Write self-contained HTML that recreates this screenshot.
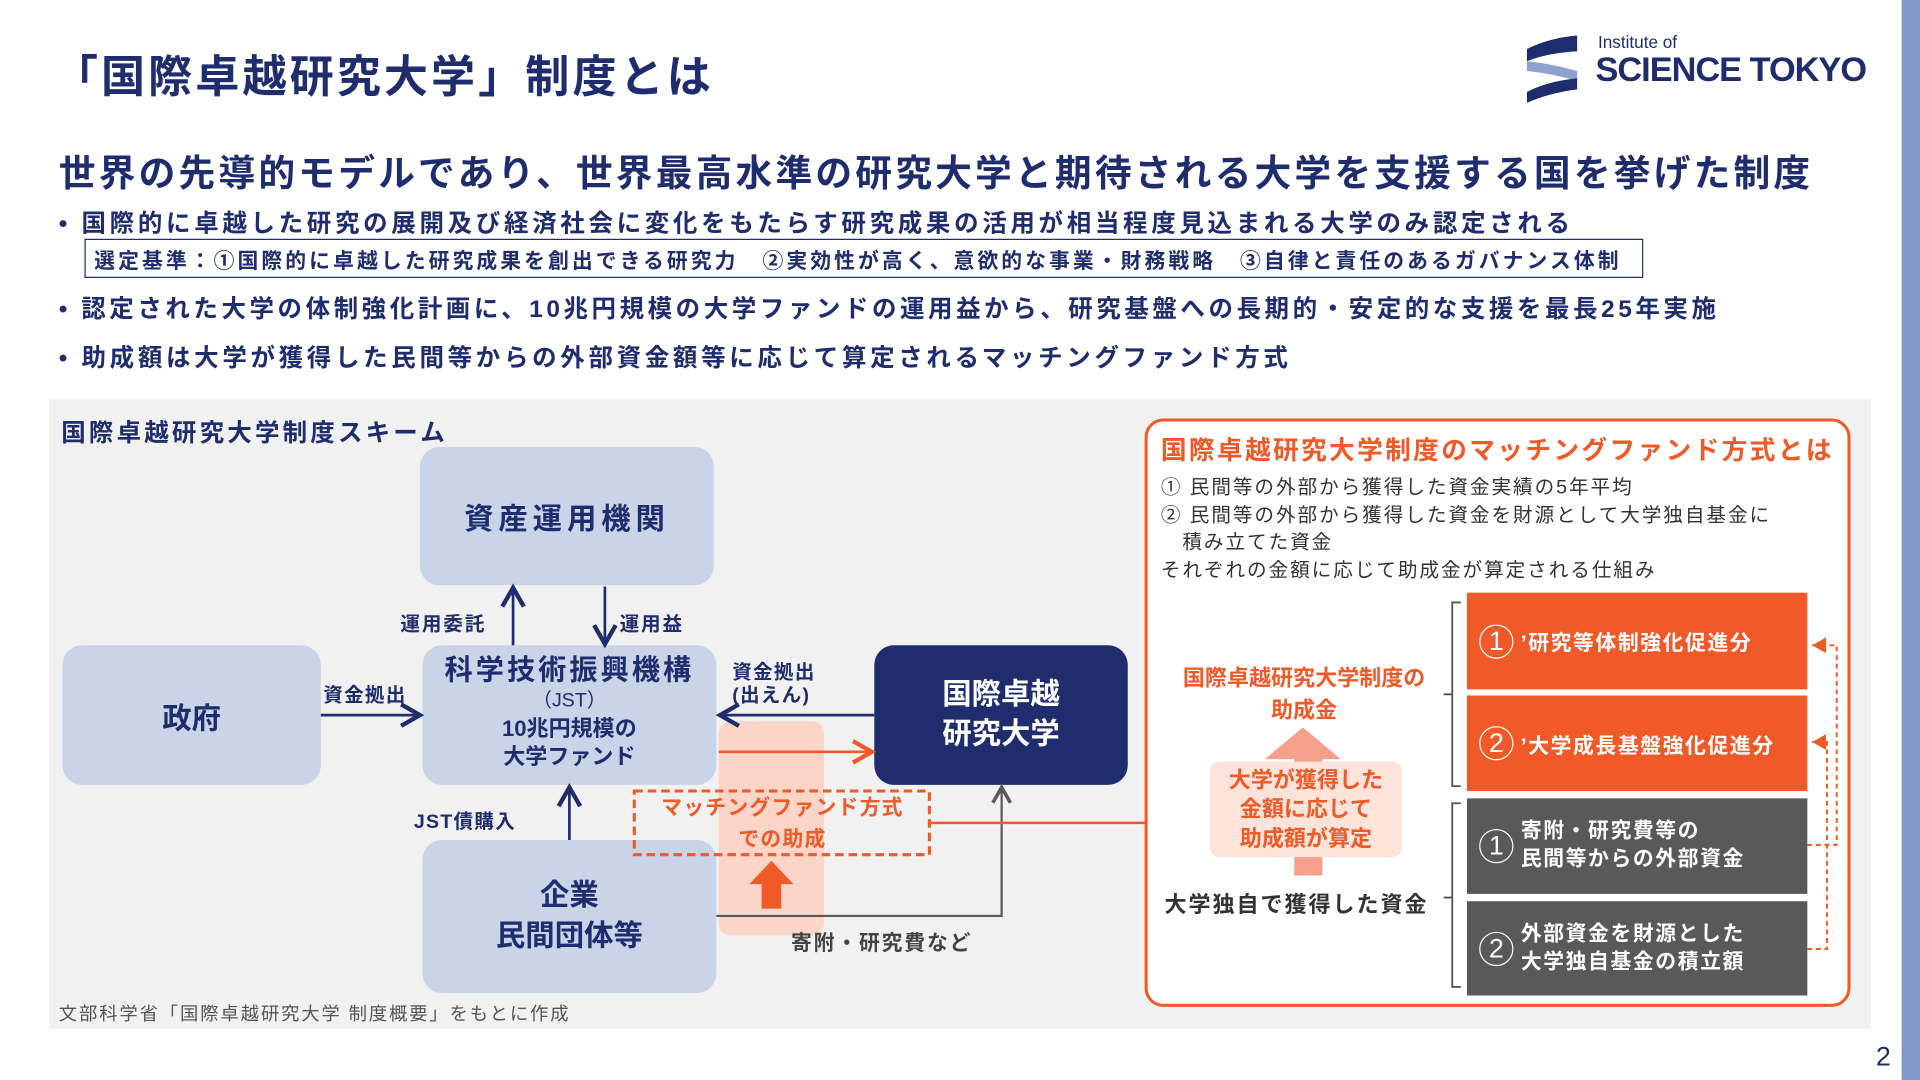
<!DOCTYPE html>
<html><head><meta charset="utf-8"><style>
*{margin:0;padding:0;box-sizing:border-box}
body{width:1920px;height:1080px;overflow:hidden;background:#fff;font-family:"Liberation Sans","Noto Sans CJK JP",sans-serif}
#s{position:absolute;left:0;top:0;width:1568px;height:882px;transform:scale(1.22449);transform-origin:0 0;color:#1f2d6e}
.a{position:absolute;white-space:nowrap}
.b{position:absolute;background:#c9d4e9;border-radius:16px;display:flex;flex-direction:column;align-items:center;justify-content:center;font-weight:bold;color:#1f2d6e;text-align:center}
.o{position:absolute;background:#f05a28;color:#fff;font-weight:bold;font-size:17px;display:flex;align-items:center;padding-left:10px;letter-spacing:1.3px}
.g{position:absolute;background:#595959;color:#fff;font-weight:bold;font-size:17px;display:flex;align-items:center;padding-left:10px;line-height:1.35;letter-spacing:1.3px}
.c{display:inline-flex;width:28px;height:28px;border:1.2px solid #fff;border-radius:50%;align-items:center;justify-content:center;font-size:22px;font-weight:normal;margin-right:6px;letter-spacing:0}
</style></head><body><div id="s">
<div class="a" style="left:1553px;top:0;width:15px;height:882px;background:#7f98c6"></div>
<div class="a" style="left:44px;top:34px;font-size:36px;font-weight:bold;letter-spacing:2.5px">「国際卓越研究大学」制度とは</div>
<svg class="a" style="left:1245px;top:28px" width="46" height="58"><path d="M2 12 Q20 3 43 1 V14 Q20 15 2 22Z" fill="#1f2d6e"/><path d="M2 22 Q22 24 43 30 V38 Q22 32 2 30Z" fill="#8ea2cf"/><path d="M2 47 Q20 38 43 36 V45 Q20 48 2 56Z" fill="#1f2d6e"/></svg>
<div class="a" style="left:1305px;top:26px;font-size:14px">Institute of</div>
<div class="a" style="left:1303px;top:41px;font-size:28px;font-weight:bold;letter-spacing:-0.8px">SCIENCE TOKYO</div>
<div class="a" style="left:48px;top:117px;font-size:30px;font-weight:bold;letter-spacing:2.6px">世界の先導的モデルであり、世界最高水準の研究大学と期待される大学を支援する国を挙げた制度</div>
<div class="a" style="left:48px;top:166px;font-size:20px;font-weight:bold;letter-spacing:3px">• 国際的に卓越した研究の展開及び経済社会に変化をもたらす研究成果の活用が相当程度見込まれる大学のみ認定される</div>
<div class="a" style="left:69px;top:195px;width:1273px;height:32px;border:1.5px solid #1f2d6e;font-size:17px;font-weight:bold;padding:3px 0 0 7px;letter-spacing:2.5px">選定基準：①国際的に卓越した研究成果を創出できる研究力　②実効性が高く、意欲的な事業・財務戦略　③自律と責任のあるガバナンス体制</div>
<div class="a" style="left:48px;top:236px;font-size:20px;font-weight:bold;letter-spacing:2.9px">• 認定された大学の体制強化計画に、10兆円規模の大学ファンドの運用益から、研究基盤への長期的・安定的な支援を最長25年実施</div>
<div class="a" style="left:48px;top:276px;font-size:20px;font-weight:bold;letter-spacing:3px">• 助成額は大学が獲得した民間等からの外部資金額等に応じて算定されるマッチングファンド方式</div>
<div class="a" style="left:40px;top:326px;width:1488px;height:514px;background:#f1f1f1"></div>
<div class="a" style="left:50px;top:337px;font-size:20px;font-weight:bold;letter-spacing:2.6px">国際卓越研究大学制度スキーム</div>
<div class="a" style="left:587px;top:589px;width:86px;height:175px;background:#fcd5c8;border-radius:10px"></div>
<div class="b" style="left:343px;top:365px;width:240px;height:113px;font-size:24px;letter-spacing:4px">資産運用機関</div>
<div class="b" style="left:51px;top:527px;width:211px;height:114px;font-size:24px">政府</div>
<div class="b" style="left:345px;top:527px;width:240px;height:114px;font-size:16px;line-height:1.3;justify-content:flex-start;padding-top:6px"><span style="font-size:23px;letter-spacing:2.5px">科学技術振興機構</span><span style="font-weight:normal">（JST）</span><span style="font-size:18px">10兆円規模の<br>大学ファンド</span></div>
<div class="b" style="left:714px;top:527px;width:207px;height:114px;font-size:24px;background:#1f2d6e;color:#fff;line-height:1.35">国際卓越<br>研究大学</div>
<div class="b" style="left:345px;top:686px;width:240px;height:125px;font-size:24px;line-height:1.35">企業<br>民間団体等</div>
<svg class="a" style="left:0;top:0" width="1568" height="882">
<defs><marker id="n" markerWidth="10" markerHeight="10" refX="8" refY="5" orient="auto"><path d="M1 1L8 5L1 9" fill="none" stroke="#1f2d6e" stroke-width="1.6"/></marker>
<marker id="r" markerWidth="10" markerHeight="10" refX="8" refY="5" orient="auto"><path d="M1 1L8 5L1 9" fill="none" stroke="#f05a28" stroke-width="1.6"/></marker>
<marker id="k" markerWidth="10" markerHeight="10" refX="8" refY="5" orient="auto"><path d="M1 1L8 5L1 9" fill="none" stroke="#595959" stroke-width="1.6"/></marker>
<marker id="t" markerWidth="8" markerHeight="8" refX="7" refY="4" orient="auto"><path d="M0 0L7 4L0 8Z" fill="#f05a28"/></marker></defs>
<g stroke="#1f2d6e" stroke-width="2.2" fill="none">
<line x1="419" y1="527" x2="419" y2="480" marker-end="url(#n)"/>
<line x1="494" y1="479" x2="494" y2="526" marker-end="url(#n)"/>
<line x1="262" y1="584" x2="343" y2="584" marker-end="url(#n)"/>
<line x1="714" y1="584" x2="588" y2="584" marker-end="url(#n)"/>
<line x1="465" y1="686" x2="465" y2="643" marker-end="url(#n)"/></g>
<line x1="587" y1="614" x2="712" y2="614" stroke="#f05a28" stroke-width="2.2" marker-end="url(#r)"/>
<polyline points="585,748 818,748 818,643" fill="none" stroke="#595959" stroke-width="1.8" marker-end="url(#k)"/>
<rect x="518" y="646" width="241" height="52" fill="none" stroke="#f05a28" stroke-width="2.5" stroke-dasharray="7,4"/>
<line x1="759" y1="672" x2="936" y2="672" stroke="#f05a28" stroke-width="2"/>
<path d="M622 742V722H612L630 703L648 722H638V742Z" fill="#f05a28"/>
<rect x="936" y="343" width="574" height="478" rx="14" fill="#fff" stroke="#f05a28" stroke-width="2.5"/>
<path d="M1057 715V620H1033L1064 594L1095 620H1080V715Z" fill="#f5a08a"/>
<path d="M1193 492H1186V642H1193M1186 567H1179" fill="none" stroke="#555" stroke-width="1.5"/>
<path d="M1193 656H1186V806H1193M1186 733H1179" fill="none" stroke="#555" stroke-width="1.5"/>
<g stroke="#f05a28" stroke-width="1.6" fill="none" stroke-dasharray="4,3">
<polyline points="1476,690 1500,690 1500,527 1480,527" marker-end="url(#t)"/>
<polyline points="1476,775 1492,775 1492,606 1480,606" marker-end="url(#t)"/></g>
</svg>
<div class="a" style="left:327px;top:496px;font-size:16px;font-weight:bold;letter-spacing:1.5px">運用委託</div>
<div class="a" style="left:506px;top:496px;font-size:16px;font-weight:bold;letter-spacing:1.5px">運用益</div>
<div class="a" style="left:264px;top:554px;font-size:16px;font-weight:bold;letter-spacing:1px">資金拠出</div>
<div class="a" style="left:598px;top:540px;font-size:16px;font-weight:bold;line-height:1.2;letter-spacing:1px">資金拠出<br>(出えん)</div>
<div class="a" style="left:338px;top:657px;font-size:16px;font-weight:bold;letter-spacing:1px">JST債購入</div>
<div class="a" style="left:520px;top:647px;width:238px;text-align:center;font-size:17px;font-weight:bold;color:#f05a28;line-height:1.5;letter-spacing:1px">マッチングファンド方式<br>での助成</div>
<div class="a" style="left:646px;top:756px;font-size:17px;font-weight:bold;color:#444;letter-spacing:1.5px">寄附・研究費など</div>
<div class="a" style="left:48px;top:817px;font-size:15px;color:#555;letter-spacing:1.5px">文部科学省「国際卓越研究大学 制度概要」をもとに作成</div>
<div class="a" style="left:948px;top:352px;font-size:21px;font-weight:bold;color:#f05a28;letter-spacing:1.9px">国際卓越研究大学制度のマッチングファンド方式とは</div>
<div class="a" style="left:948px;top:388px;font-size:16px;color:#333;line-height:22.5px;letter-spacing:1.6px">① 民間等の外部から獲得した資金実績の5年平均<br>② 民間等の外部から獲得した資金を財源として大学独自基金に<br>　積み立てた資金<br>それぞれの金額に応じて助成金が算定される仕組み</div>
<div class="a" style="left:955px;top:541px;width:220px;text-align:center;font-size:18px;font-weight:bold;color:#f05a28;line-height:26px">国際卓越研究大学制度の<br>助成金</div>
<div class="a" style="left:988px;top:622px;width:157px;height:78px;background:#fde3da;border-radius:8px;text-align:center;font-size:18px;font-weight:bold;color:#f05a28;line-height:24px;padding-top:3px">大学が獲得した<br>金額に応じて<br>助成額が算定</div>
<div class="a" style="left:951px;top:725px;font-size:18px;font-weight:bold;color:#333;letter-spacing:1.6px">大学独自で獲得した資金</div>
<div class="o" style="left:1198px;top:484px;width:278px;height:79px"><span class="c">1</span>’研究等体制強化促進分</div>
<div class="o" style="left:1198px;top:568px;width:278px;height:78px"><span class="c">2</span>’大学成長基盤強化促進分</div>
<div class="g" style="left:1198px;top:652px;width:278px;height:78px"><span class="c">1</span><span>寄附・研究費等の<br>民間等からの外部資金</span></div>
<div class="g" style="left:1198px;top:736px;width:278px;height:77px"><span class="c">2</span><span>外部資金を財源とした<br>大学独自基金の積立額</span></div>
<div class="a" style="left:1532px;top:850px;font-size:22px">2</div>
</div></body></html>
